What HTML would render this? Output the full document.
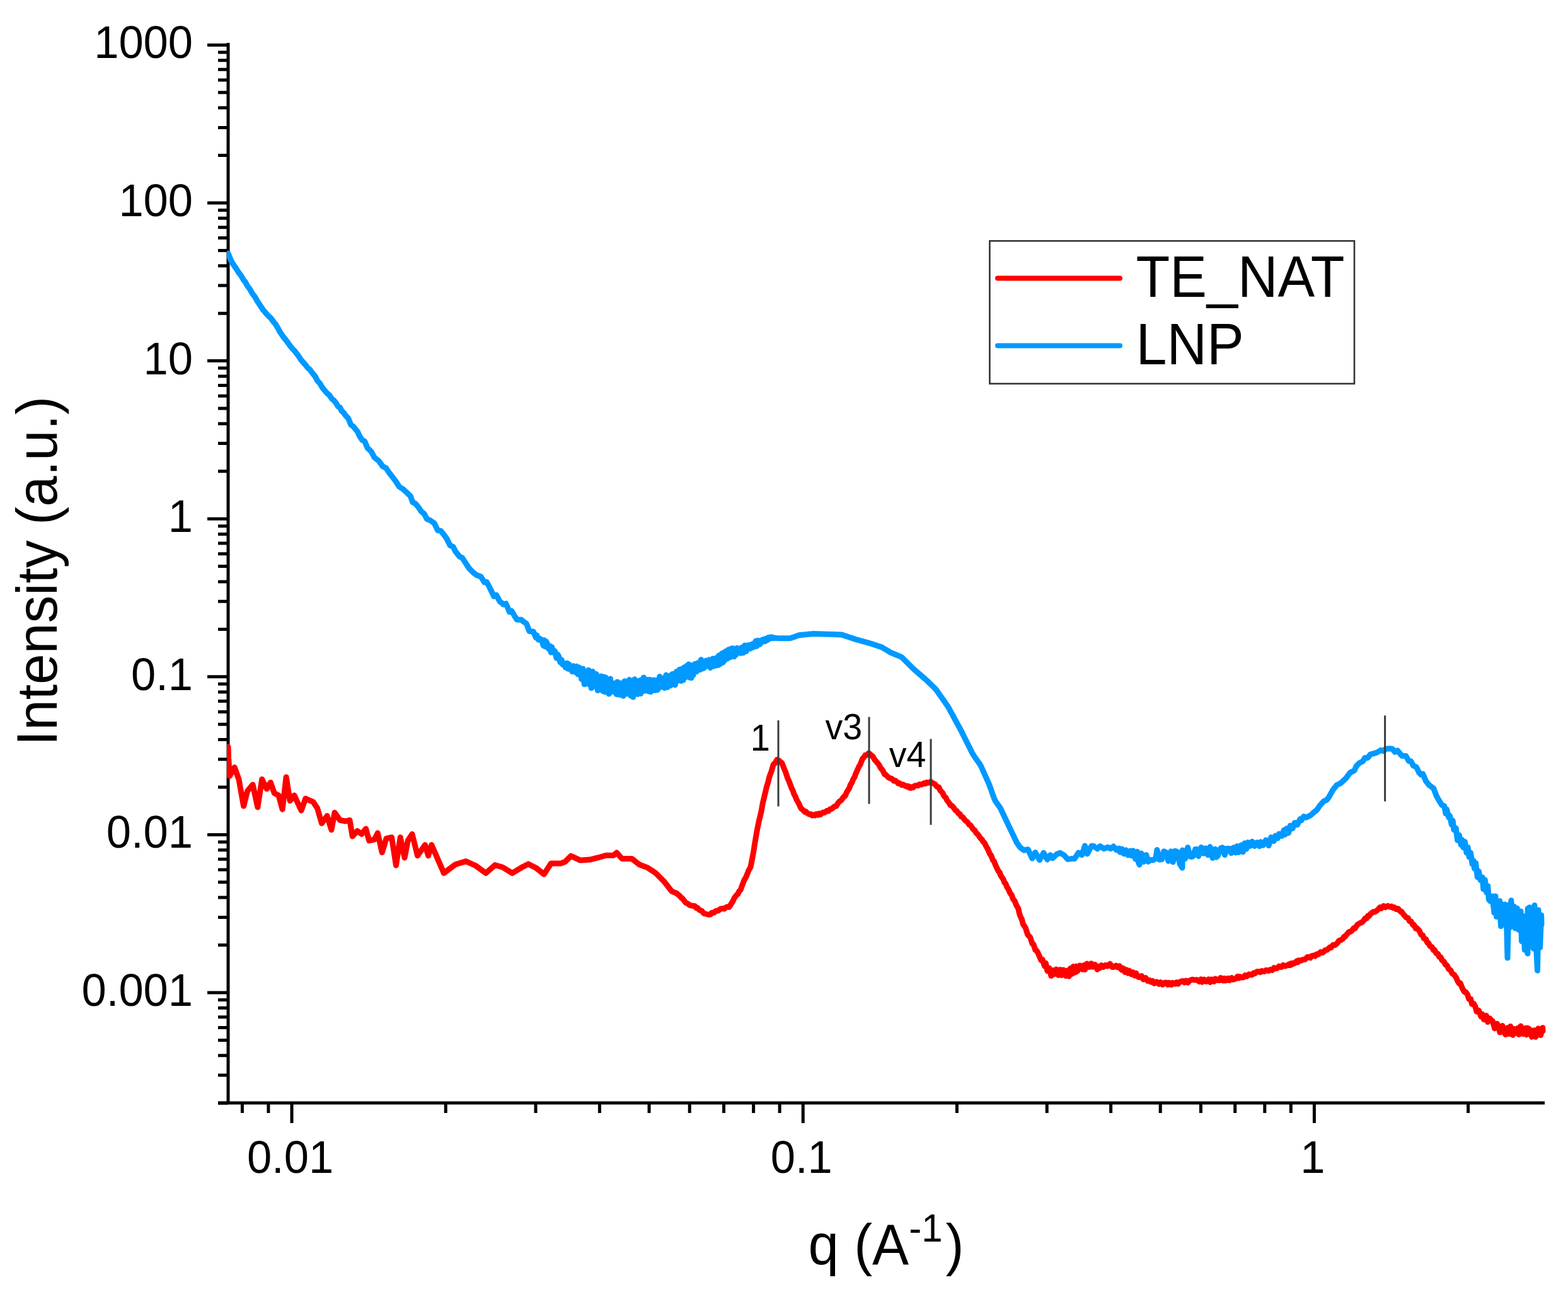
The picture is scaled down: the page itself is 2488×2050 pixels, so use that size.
<!DOCTYPE html>
<html><head><meta charset="utf-8"><title>SAXS plot</title>
<style>html,body{margin:0;padding:0;background:#fff;overflow:hidden;}svg{display:block;}</style>
</head><body>
<svg width="2488" height="2050" viewBox="0 0 2488 2050">
<rect width="2488" height="2050" fill="#fff"/>
<g stroke="#000" stroke-width="5" fill="none" stroke-linecap="butt">
<path d="M362,68V1752M346,1750H2451"/>
<path d="M346,1750.2H362M346,1706.0H362M346,1674.7H362M346,1650.4H362M346,1630.6H362M346,1613.8H362M346,1599.3H362M346,1586.5H362M329,1575.0H362M346,1499.6H362M346,1455.4H362M346,1424.1H362M346,1399.8H362M346,1380.0H362M346,1363.2H362M346,1348.7H362M346,1335.9H362M329,1324.4H362M346,1249.0H362M346,1204.8H362M346,1173.5H362M346,1149.2H362M346,1129.4H362M346,1112.6H362M346,1098.1H362M346,1085.3H362M329,1073.8H362M346,998.4H362M346,954.2H362M346,922.9H362M346,898.6H362M346,878.8H362M346,862.0H362M346,847.5H362M346,834.7H362M329,823.2H362M346,747.8H362M346,703.6H362M346,672.3H362M346,648.0H362M346,628.2H362M346,611.4H362M346,596.9H362M346,584.1H362M329,572.6H362M346,497.2H362M346,453.0H362M346,421.7H362M346,397.4H362M346,377.6H362M346,360.8H362M346,346.3H362M346,333.5H362M329,322.0H362M346,246.6H362M346,202.4H362M346,171.1H362M346,146.8H362M346,127.0H362M346,110.2H362M346,95.7H362M346,82.9H362M329,71.4H362"/>
<path d="M384.4,1750V1766M425.9,1750V1766M463.0,1750V1782M707.2,1750V1766M850.0,1750V1766M951.4,1750V1766M1030.0,1750V1766M1094.2,1750V1766M1148.5,1750V1766M1195.6,1750V1766M1237.1,1750V1766M1274.2,1750V1782M1518.4,1750V1766M1661.2,1750V1766M1762.6,1750V1766M1841.2,1750V1766M1905.4,1750V1766M1959.7,1750V1766M2006.8,1750V1766M2048.3,1750V1766M2085.4,1750V1782M2329.6,1750V1766"/>
</g>
<defs><clipPath id="pa"><rect x="360" y="0" width="2100" height="1748"/></clipPath></defs>
<g clip-path="url(#pa)">
<polyline fill="none" stroke="#0099ff" stroke-width="9" stroke-linejoin="round" stroke-linecap="round" points="362.0,402.1 366.5,413.2 370.1,419.4 374.4,425.6 378.2,431.7 382.6,437.4 386.7,444.6 389.2,447.3 392.5,453.6 396.1,458.2 400.4,465.8 404.6,471.3 408.6,478.3 412.9,484.7 417.1,491.2 420.7,495.4 423.4,498.7 427.1,502.3 430.3,505.5 434.3,511.0 437.2,514.3 441.6,521.8 444.6,527.2 449.5,534.4 454.5,540.6 457.1,544.2 460.1,548.5 462.9,552.1 467.5,556.8 470.6,560.9 473.2,564.1 477.2,570.3 481.0,574.9 484.7,578.9 488.6,584.1 491.1,585.8 495.5,591.6 500.2,597.4 503.6,604.1 507.5,608.3 511.8,615.5 516.2,620.7 519.3,624.2 522.5,626.8 526.5,632.8 530.1,635.6 532.9,639.0 536.4,645.0 539.4,646.3 542.2,652.2 545.3,654.9 548.1,658.9 552.8,664.1 556.7,673.8 560.6,676.7 567.4,685.1 570.6,692.0 574.6,698.1 578.6,700.3 583.1,710.8 589.3,716.7 594.0,725.8 600.9,731.2 607.0,739.7 612.6,742.8 617.8,750.5 622.1,755.9 628.3,764.1 633.4,772.2 639.0,775.7 644.9,781.0 651.4,787.2 654.8,797.0 658.9,798.9 662.6,803.0 668.4,811.3 673.2,815.5 677.3,823.5 682.5,825.6 689.1,830.1 694.6,841.6 699.2,842.1 704.0,847.9 708.4,853.9 714.2,865.4 719.0,867.5 722.6,874.8 729.5,883.3 733.3,884.9 739.6,894.5 744.5,902.0 751.1,908.7 756.3,912.5 763.0,914.9 768.7,924.1 772.3,923.5 777.3,933.0 783.7,946.2 787.5,944.0 793.1,954.4 799.1,959.1 802.8,957.7 808.6,971.1 811.8,969.3 816.6,977.6 820.1,983.2 826.9,983.3 829.9,985.8 835.4,989.6 840.0,1001.6 846.3,1002.3 850.2,1011.5 851.8,1008.0 854.0,1014.8 856.2,1015.3 857.5,1013.8 859.8,1015.5 862.1,1024.4 863.4,1015.7 865.2,1026.1 866.5,1017.8 868.3,1021.0 870.3,1029.3 872.7,1024.9 874.2,1035.1 875.7,1026.8 877.1,1035.1 878.3,1031.7 880.6,1033.5 883.0,1044.3 884.9,1038.5 886.9,1042.2 888.9,1051.0 891.1,1046.9 892.7,1054.4 895.1,1052.2 897.3,1059.0 899.9,1052.3 901.3,1061.2 903.0,1054.2 905.3,1062.3 906.6,1057.1 907.9,1065.5 909.8,1056.7 911.1,1064.8 912.8,1066.5 915.0,1057.3 916.9,1070.0 918.9,1059.0 921.5,1063.6 922.7,1077.6 924.9,1061.0 927.2,1085.8 929.5,1068.1 931.8,1083.8 933.7,1063.3 935.0,1086.1 936.7,1069.7 938.2,1091.8 940.2,1065.4 941.8,1089.0 943.7,1072.3 946.1,1069.4 948.4,1095.6 950.4,1076.0 952.6,1090.7 953.9,1072.9 956.4,1096.4 958.2,1074.1 959.6,1097.9 961.1,1074.9 963.7,1082.5 966.1,1101.0 968.4,1077.1 970.3,1097.6 972.3,1083.8 974.0,1097.8 975.5,1086.4 977.0,1086.4 978.2,1101.7 979.5,1081.9 982.0,1102.1 983.2,1084.1 984.4,1102.4 986.7,1084.1 988.8,1104.3 991.1,1080.8 993.1,1101.1 994.5,1083.1 996.2,1099.7 998.5,1078.4 1000.7,1103.9 1003.1,1081.0 1004.5,1106.1 1007.0,1077.8 1009.1,1100.4 1010.5,1081.7 1011.9,1101.6 1013.1,1080.8 1015.3,1079.5 1016.7,1100.5 1019.1,1078.7 1021.4,1074.9 1023.3,1096.2 1024.5,1078.3 1026.4,1095.4 1028.2,1078.5 1029.5,1097.1 1030.9,1078.5 1032.5,1097.8 1033.7,1079.8 1035.7,1094.9 1037.0,1079.0 1039.3,1095.4 1041.7,1079.4 1043.4,1094.7 1045.3,1090.6 1046.6,1073.6 1047.9,1090.3 1050.4,1077.7 1052.8,1076.2 1054.2,1091.6 1055.6,1076.2 1056.9,1071.1 1059.1,1090.6 1060.6,1087.9 1062.5,1072.5 1063.8,1087.8 1066.2,1069.9 1068.8,1069.2 1071.2,1086.8 1073.7,1065.4 1075.0,1080.4 1076.4,1078.1 1078.3,1062.3 1080.7,1080.5 1082.7,1061.1 1084.1,1079.0 1085.8,1058.7 1087.4,1075.0 1089.5,1056.6 1091.1,1072.8 1092.7,1054.0 1094.8,1075.2 1097.0,1075.7 1098.2,1055.9 1099.9,1071.2 1102.0,1053.8 1103.3,1053.4 1105.1,1065.7 1106.4,1052.4 1108.7,1051.4 1111.0,1062.7 1112.4,1046.7 1114.7,1059.3 1116.0,1060.6 1117.5,1059.6 1120.0,1048.2 1122.3,1056.3 1123.6,1056.8 1125.2,1046.8 1127.2,1059.5 1129.0,1057.2 1131.1,1045.0 1132.9,1057.1 1135.0,1047.5 1136.5,1055.7 1137.9,1043.1 1139.6,1055.4 1140.8,1040.0 1143.1,1053.5 1145.4,1036.8 1147.3,1051.0 1149.1,1035.0 1150.4,1047.2 1152.1,1033.0 1154.1,1045.0 1155.8,1030.8 1158.2,1043.0 1160.3,1029.0 1161.7,1039.6 1162.9,1028.6 1164.8,1041.8 1166.3,1031.0 1167.9,1038.8 1169.3,1028.2 1171.2,1030.7 1173.0,1029.0 1175.5,1036.5 1177.2,1027.2 1179.3,1035.8 1181.7,1024.1 1184.3,1033.5 1185.6,1024.0 1187.6,1029.4 1189.4,1023.3 1190.7,1029.0 1193.3,1022.0 1194.9,1027.2 1197.4,1020.2 1199.1,1017.2 1200.4,1025.5 1202.7,1016.2 1204.3,1022.8 1206.7,1021.4 1209.0,1015.5 1211.5,1014.5 1213.7,1017.8 1215.0,1013.3 1216.8,1016.1 1219.3,1011.4 1220.7,1013.9 1223.3,1010.7 1225.3,1012.8 1226.6,1011.5 1228.3,1012.6 1229.6,1012.1 1231.2,1012.5 1233.2,1012.6 1235.2,1012.7 1237.2,1012.7 1239.2,1012.7 1241.2,1012.7 1243.2,1012.7 1245.2,1012.7 1247.2,1012.7 1249.2,1012.7 1251.2,1012.7 1253.2,1012.7 1255.2,1012.3 1257.2,1011.6 1259.2,1010.9 1261.2,1010.2 1263.2,1009.5 1265.2,1008.8 1267.2,1008.1 1269.2,1007.6 1271.2,1007.4 1273.2,1007.2 1275.2,1007.1 1277.2,1006.9 1279.2,1006.7 1281.2,1006.5 1283.2,1006.3 1285.2,1006.1 1287.2,1006.0 1289.2,1005.8 1291.2,1005.6 1293.2,1005.7 1295.2,1005.7 1297.2,1005.8 1299.2,1005.8 1301.2,1005.9 1303.2,1006.0 1305.2,1006.0 1307.2,1006.1 1309.2,1006.2 1311.2,1006.2 1313.2,1006.3 1315.2,1006.3 1317.2,1006.4 1319.2,1006.5 1321.2,1006.5 1323.2,1006.6 1325.2,1006.7 1327.2,1006.7 1329.2,1006.8 1331.2,1006.9 1333.2,1006.9 1335.2,1007.0 1337.2,1007.6 1339.2,1008.3 1341.2,1009.0 1343.2,1009.6 1345.2,1010.3 1347.2,1011.0 1349.2,1011.6 1351.2,1012.3 1353.2,1013.0 1355.2,1013.6 1357.2,1014.3 1359.2,1014.8 1361.2,1015.4 1363.2,1015.9 1365.2,1016.5 1367.2,1017.1 1369.2,1017.6 1371.2,1018.2 1373.2,1018.7 1375.2,1019.3 1377.2,1019.9 1379.2,1020.4 1381.2,1021.0 1383.2,1021.6 1385.2,1022.3 1387.2,1022.9 1389.2,1023.6 1391.2,1024.3 1393.2,1025.0 1395.2,1025.6 1397.2,1026.3 1399.2,1027.0 1401.2,1028.1 1403.2,1029.3 1405.2,1030.5 1407.2,1031.7 1409.2,1032.9 1411.2,1034.1 1413.2,1035.3 1415.2,1036.2 1417.2,1037.0 1419.2,1037.8 1421.2,1038.7 1423.2,1039.5 1425.2,1040.3 1427.2,1041.1 1429.2,1042.0 1431.2,1043.1 1433.2,1045.1 1435.2,1047.1 1437.2,1049.1 1439.2,1051.1 1441.2,1053.1 1443.2,1055.1 1445.2,1057.1 1447.2,1059.1 1449.2,1061.1 1451.2,1062.8 1453.2,1064.6 1455.2,1066.3 1457.2,1068.0 1459.2,1069.8 1461.2,1071.5 1463.2,1073.3 1465.2,1075.0 1467.2,1076.7 1469.2,1078.5 1471.2,1080.3 1473.2,1082.2 1475.2,1084.2 1477.2,1086.1 1479.2,1088.1 1481.2,1090.0 1483.2,1091.9 1485.2,1094.1 1487.2,1096.9 1489.2,1099.8 1491.2,1102.6 1493.2,1105.4 1495.2,1108.3 1497.2,1111.1 1499.2,1114.0 1501.2,1116.8 1503.2,1119.7 1505.2,1122.9 1507.2,1126.6 1509.2,1130.3 1511.2,1133.9 1513.2,1137.6 1515.2,1141.3 1517.2,1145.0 1519.2,1148.6 1521.2,1152.3 1523.2,1156.0 1525.2,1159.7 1527.2,1163.7 1529.2,1167.7 1531.2,1171.7 1533.2,1175.7 1535.2,1179.7 1537.2,1183.7 1539.2,1187.7 1541.2,1191.7 1543.2,1195.7 1545.2,1199.0 1547.2,1201.8 1549.2,1204.7 1551.2,1207.5 1553.2,1210.4 1555.2,1213.2 1557.2,1217.1 1559.2,1221.5 1561.2,1226.0 1563.2,1230.5 1565.2,1235.0 1567.2,1239.4 1569.2,1243.9 1571.2,1249.1 1573.2,1254.8 1575.2,1260.4 1577.2,1266.0 1579.2,1270.7 1581.2,1273.5 1583.2,1276.3 1585.2,1279.1 1587.2,1282.0 1589.2,1286.2 1591.2,1290.5 1593.2,1294.7 1595.2,1298.9 1597.2,1303.2 1599.2,1307.4 1601.2,1311.6 1603.2,1315.8 1605.2,1319.9 1607.2,1324.1 1609.2,1328.3 1611.2,1332.4 1613.2,1336.9 1618.9,1344.8 1624.9,1349.2 1631.1,1347.7 1637.9,1362.0 1642.8,1352.6 1649.5,1364.6 1655.9,1353.2 1661.8,1363.9 1666.5,1356.6 1670.0,1361.7 1676.9,1355.3 1682.2,1353.3 1688.7,1357.2 1694.0,1363.4 1699.9,1362.6 1705.0,1362.4 1711.3,1353.0 1716.8,1356.6 1721.4,1342.1 1725.2,1354.8 1732.0,1342.2 1735.1,1342.2 1741.1,1346.8 1745.7,1342.7 1751.9,1346.7 1758.1,1344.2 1762.1,1346.7 1766.8,1343.1 1771.2,1348.5 1775.2,1346.2 1777.3,1352.3 1780.1,1346.9 1783.1,1354.7 1786.5,1348.8 1789.7,1356.8 1793.3,1350.0 1795.4,1357.7 1797.8,1349.8 1801.8,1363.1 1804.4,1351.3 1806.5,1368.4 1808.0,1372.0 1810.9,1354.0 1814.7,1367.4 1818.8,1356.4 1821.9,1367.2 1825.0,1364.4 1829.4,1364.7 1833.8,1362.3 1835.9,1348.5 1839.7,1364.0 1843.4,1363.6 1846.7,1350.8 1850.3,1352.6 1853.7,1366.2 1858.0,1350.8 1861.3,1367.8 1864.5,1350.2 1868.3,1351.9 1872.1,1370.9 1876.0,1377.0 1876.2,1349.1 1880.6,1362.5 1884.7,1344.6 1888.1,1358.8 1891.2,1359.5 1893.3,1358.2 1896.7,1347.4 1899.2,1347.5 1901.7,1358.5 1906.0,1344.6 1910.0,1354.2 1912.5,1345.9 1916.7,1356.6 1920.0,1343.5 1924.1,1361.4 1928.0,1347.2 1930.1,1360.1 1932.3,1358.0 1936.6,1346.2 1939.4,1344.7 1943.4,1356.5 1945.4,1346.8 1949.4,1346.3 1953.7,1353.7 1955.9,1345.7 1958.2,1344.7 1960.7,1352.9 1962.9,1342.6 1965.2,1352.4 1969.2,1341.1 1972.3,1351.7 1974.8,1338.0 1977.8,1347.0 1980.1,1336.6 1983.9,1342.3 1986.9,1335.3 1990.6,1342.4 1994.6,1336.7 1998.5,1342.8 2000.5,1335.8 2004.3,1341.2 2008.7,1332.9 2013.1,1341.8 2016.9,1328.5 2021.2,1334.6 2023.9,1326.1 2027.3,1330.0 2029.6,1323.1 2033.9,1326.5 2037.3,1317.0 2039.3,1324.2 2041.6,1314.6 2044.6,1321.5 2047.4,1309.9 2051.0,1314.5 2054.5,1305.4 2058.5,1308.7 2063.0,1299.4 2065.0,1301.7 2068.6,1295.6 2072.9,1297.1 2079.8,1293.5 2085.1,1288.6 2089.3,1285.4 2094.1,1278.3 2100.7,1271.1 2105.0,1269.5 2108.5,1265.0 2114.8,1253.6 2121.0,1245.8 2126.7,1243.0 2131.5,1238.8 2135.6,1235.0 2142.3,1225.9 2148.9,1222.5 2152.4,1215.3 2157.5,1210.3 2162.5,1208.0 2165.7,1202.4 2170.4,1202.4 2174.4,1197.0 2180.5,1195.3 2184.9,1194.0 2191.0,1190.2 2195.2,1191.7 2198.5,1188.4 2203.8,1187.8 2209.2,1188.3 2213.4,1193.2 2217.4,1190.8 2224.3,1199.2 2230.8,1199.4 2235.2,1207.4 2238.6,1207.7 2242.6,1215.0 2247.4,1217.1 2251.5,1225.5 2254.6,1229.2 2257.7,1228.0 2262.5,1239.2 2267.8,1245.9 2274.6,1250.7 2279.4,1263.2 2283.6,1270.4 2287.9,1277.5 2291.5,1278.5 2294.1,1291.0 2295.6,1284.2 2298.6,1296.8 2300.5,1294.5 2303.4,1308.5 2305.2,1302.2 2307.0,1316.8 2310.1,1313.9 2312.6,1333.3 2315.4,1325.1 2318.2,1340.5 2319.7,1332.5 2321.7,1344.6 2324.4,1335.6 2326.9,1352.8 2329.1,1344.3 2331.2,1359.8 2333.5,1353.1 2336.2,1371.0 2338.1,1365.6 2339.5,1378.0 2341.5,1369.4 2344.3,1391.6 2346.4,1382.5 2349.1,1396.4 2352.2,1391.9 2353.8,1410.8 2356.3,1396.3 2358.7,1416.2 2360.8,1405.9 2362.4,1427.3 2365.0,1430.1 2368.0,1422.0 2370.9,1448.3 2372.9,1421.9 2374.5,1454.6 2376.9,1450.7 2379.7,1429.8 2381.5,1469.6 2383.2,1434.9 2386.3,1466.6 2387.8,1434.9 2390.7,1469.8 2392.0,1520.0 2393.8,1435.9 2395.5,1471.8 2397.8,1428.8 2400.5,1467.3 2402.4,1438.6 2404.2,1473.0 2407.2,1441.3 2409.9,1475.4 2413.0,1445.9 2414.5,1493.4 2417.0,1453.5 2419.3,1507.3 2421.7,1492.1 2424.0,1513.0 2424.1,1441.7 2427.1,1439.7 2429.5,1494.1 2431.6,1443.9 2433.1,1504.9 2434.9,1436.6 2438.0,1511.1 2439.5,1540.0 2441.0,1444.0 2443.6,1503.2 2445.6,1452.2 2446.0,1467.0"/>
<polyline fill="none" stroke="#ff0000" stroke-width="9" stroke-linejoin="round" stroke-linecap="round" points="362.0,1185.1 362.5,1202.2 364.4,1231.3 372.1,1217.6 378.9,1236.4 386.6,1279.1 392.6,1255.2 401.1,1244.9 408.8,1280.8 415.7,1236.4 423.3,1251.8 429.3,1241.5 435.3,1258.6 442.1,1262.0 448.1,1284.2 454.1,1233.0 460.1,1270.6 466.9,1262.0 478.0,1285.9 484.8,1267.1 496.8,1272.3 503.6,1282.5 510.5,1306.4 519.0,1294.5 525.9,1316.7 531.0,1289.3 539.5,1301.3 548.1,1303.0 554.9,1301.3 559.2,1326.9 566.9,1318.4 573.7,1323.5 580.5,1315.0 585.7,1333.8 594.2,1332.1 599.3,1321.8 606.2,1352.6 613.0,1330.4 621.5,1328.6 628.4,1373.1 635.2,1328.6 642.0,1361.1 647.2,1333.8 654.0,1323.5 662.5,1357.7 674.5,1340.6 679.6,1357.7 684.8,1340.6 704.3,1385.4 722.2,1371.8 739.3,1366.6 754.7,1373.5 770.9,1385.4 785.4,1372.6 797.4,1376.0 812.8,1385.4 829.8,1375.2 838.4,1370.9 850.3,1376.9 863.2,1387.1 874.3,1370.0 889.6,1370.0 896.5,1367.5 905.9,1358.1 920.4,1364.9 935.8,1364.1 949.4,1360.7 961.4,1357.2 973.4,1357.2 978.5,1353.0 987.0,1362.4 1002.4,1362.4 1014.4,1371.8 1028.0,1376.9 1040.0,1384.9 1053.8,1398.7 1065.9,1414.3 1070.0,1415.9 1072.0,1416.7 1074.0,1417.5 1076.0,1419.4 1078.8,1421.7 1081.2,1424.8 1082.9,1425.4 1085.0,1428.6 1088.7,1432.7 1091.4,1433.8 1094.3,1436.1 1096.0,1436.6 1098.0,1437.2 1099.6,1437.3 1102.4,1437.4 1104.7,1440.6 1106.5,1440.2 1110.0,1444.1 1113.5,1445.3 1115.6,1447.8 1117.3,1449.5 1121.2,1450.5 1124.1,1451.2 1127.3,1450.9 1129.3,1448.3 1132.6,1448.3 1136.1,1445.2 1139.6,1445.1 1142.6,1442.5 1145.9,1441.4 1149.2,1442.1 1152.1,1439.5 1154.4,1438.8 1156.9,1439.4 1160.7,1433.4 1162.7,1430.3 1165.2,1424.9 1168.8,1420.1 1170.9,1418.4 1172.7,1414.4 1175.3,1411.6 1177.3,1405.6 1181.0,1396.2 1184.2,1390.7 1187.7,1381.6 1191.0,1375.6 1194.3,1358.9 1196.1,1348.7 1197.8,1337.4 1201.5,1316.1 1204.0,1304.0 1207.9,1287.9 1210.2,1274.8 1213.9,1259.4 1216.7,1247.5 1218.4,1242.5 1221.1,1231.7 1223.9,1224.2 1227.3,1212.7 1230.0,1210.6 1232.9,1205.3 1236.9,1207.5 1239.1,1209.8 1240.7,1210.6 1244.4,1220.0 1246.5,1224.9 1249.7,1234.7 1252.3,1240.4 1256.1,1250.6 1258.2,1254.7 1260.0,1260.3 1261.9,1263.5 1264.0,1268.9 1267.9,1275.8 1270.9,1282.5 1274.6,1285.7 1276.9,1288.3 1278.6,1287.6 1281.3,1290.5 1283.8,1292.0 1286.2,1291.7 1288.4,1294.0 1291.3,1292.6 1293.2,1293.9 1295.6,1291.6 1298.1,1293.1 1299.8,1291.0 1301.9,1292.4 1305.7,1289.1 1308.5,1289.4 1311.8,1286.6 1314.2,1287.1 1317.4,1283.7 1320.0,1283.3 1323.8,1279.6 1326.9,1279.0 1329.0,1275.2 1331.8,1271.7 1335.2,1269.4 1338.9,1264.1 1341.0,1262.8 1343.5,1256.9 1347.5,1250.7 1349.5,1245.0 1352.0,1241.2 1353.8,1236.2 1356.0,1233.0 1357.6,1228.1 1361.1,1220.4 1363.2,1215.8 1365.2,1212.8 1368.2,1204.5 1371.5,1200.8 1373.2,1197.9 1375.9,1198.0 1378.2,1195.1 1381.2,1197.1 1384.9,1200.2 1388.1,1205.8 1391.6,1209.7 1394.6,1213.3 1397.4,1218.8 1399.1,1220.3 1401.4,1223.8 1403.6,1228.6 1405.9,1229.5 1409.3,1233.4 1411.9,1234.6 1414.8,1235.4 1418.1,1239.0 1420.2,1238.3 1422.0,1239.7 1425.6,1243.3 1427.5,1242.8 1431.0,1245.7 1433.1,1244.8 1437.0,1247.4 1439.3,1247.1 1441.3,1249.2 1442.8,1247.9 1445.1,1250.3 1447.1,1248.8 1449.2,1249.4 1451.0,1247.2 1454.6,1246.2 1457.1,1246.6 1458.7,1244.5 1462.6,1244.8 1466.3,1242.6 1468.4,1243.4 1470.6,1241.4 1472.9,1242.3 1476.9,1240.3 1480.3,1242.9 1483.1,1244.0 1487.1,1248.6 1489.7,1249.0 1491.7,1253.9 1495.3,1257.6 1498.1,1263.3 1500.8,1265.7 1502.5,1269.5 1506.2,1274.2 1508.2,1277.7 1510.0,1278.1 1512.4,1280.4 1516.3,1286.0 1518.0,1286.5 1520.5,1290.4 1523.0,1291.6 1525.1,1295.5 1527.7,1296.6 1531.3,1301.7 1535.1,1304.4 1537.6,1308.3 1540.0,1309.4 1543.9,1315.4 1546.5,1317.4 1549.1,1321.8 1551.8,1324.1 1555.6,1329.9 1558.1,1331.9 1559.7,1335.3 1562.2,1337.4 1565.0,1343.4 1566.7,1345.7 1570.3,1354.3 1572.6,1357.5 1575.5,1364.9 1577.2,1366.4 1580.2,1374.1 1584.2,1382.2 1585.9,1383.8 1588.0,1389.4 1591.8,1394.8 1593.9,1400.5 1595.7,1402.1 1597.9,1407.6 1599.7,1410.1 1602.7,1416.8 1605.4,1420.5 1607.4,1426.4 1610.2,1429.8 1612.8,1436.7 1615.7,1441.3 1617.3,1448.5 1618.8,1453.3 1621.6,1459.4 1623.3,1466.3 1625.2,1469.0 1627.3,1472.4 1630.8,1483.3 1634.5,1486.9 1638.2,1497.7 1639.8,1498.2 1642.9,1507.5 1644.9,1508.2 1647.9,1514.0 1651.9,1523.6 1654.0,1522.3 1657.4,1533.0 1659.3,1528.2 1662.0,1540.8 1664.9,1536.1 1667.9,1548.5 1670.5,1539.6 1672.1,1546.1 1675.9,1537.9 1679.4,1547.4 1682.3,1538.4 1684.1,1547.5 1687.5,1539.0 1691.0,1548.5 1694.3,1539.7 1696.3,1549.2 1698.5,1536.5 1701.3,1545.3 1703.1,1533.5 1706.1,1543.0 1708.0,1533.1 1709.6,1541.0 1713.4,1531.9 1717.3,1538.2 1720.0,1531.3 1721.5,1538.5 1724.7,1529.0 1728.4,1534.5 1731.5,1528.8 1733.9,1534.1 1737.5,1530.4 1741.1,1538.2 1743.5,1533.6 1745.1,1536.0 1747.6,1531.5 1750.9,1534.3 1754.3,1531.3 1757.4,1532.9 1761.3,1529.3 1764.8,1534.5 1767.1,1534.5 1770.9,1532.1 1773.8,1535.0 1776.2,1532.7 1779.8,1539.1 1781.3,1536.1 1783.2,1537.2 1784.9,1542.4 1787.3,1538.8 1790.0,1544.2 1791.8,1540.1 1795.6,1546.1 1797.4,1542.5 1800.8,1548.2 1802.4,1544.0 1806.3,1550.5 1808.8,1550.6 1811.4,1548.4 1814.1,1554.1 1817.9,1551.5 1821.0,1556.5 1824.0,1555.3 1826.5,1558.2 1828.7,1556.2 1831.5,1560.5 1835.3,1558.0 1838.7,1561.2 1841.5,1558.4 1844.7,1562.3 1847.9,1559.2 1850.4,1559.1 1853.0,1562.5 1854.9,1559.2 1858.7,1562.6 1860.5,1559.2 1864.3,1561.1 1866.7,1558.7 1869.4,1561.2 1872.5,1557.7 1876.3,1556.5 1879.4,1559.0 1881.9,1556.0 1884.8,1559.2 1888.2,1555.5 1891.8,1554.2 1895.2,1555.0 1898.8,1554.6 1902.7,1557.4 1905.6,1553.7 1907.6,1558.2 1910.5,1554.1 1914.0,1557.4 1918.0,1553.7 1920.3,1558.4 1922.9,1553.9 1926.2,1557.4 1928.5,1552.9 1932.3,1555.6 1935.0,1555.6 1936.7,1551.4 1940.7,1556.1 1942.6,1552.3 1944.5,1556.1 1948.5,1552.2 1950.4,1555.6 1954.4,1551.5 1955.9,1554.3 1957.6,1554.1 1961.5,1552.6 1963.5,1549.3 1965.6,1552.1 1967.2,1549.4 1969.5,1551.0 1972.8,1550.8 1975.6,1547.4 1978.4,1549.2 1981.9,1545.9 1985.6,1547.0 1987.2,1546.3 1989.1,1543.8 1991.3,1544.6 1994.2,1541.7 1996.5,1541.5 2000.0,1542.7 2002.1,1540.5 2005.8,1541.5 2009.1,1539.2 2012.9,1540.4 2015.4,1538.4 2018.7,1539.4 2021.6,1535.6 2024.8,1536.9 2026.8,1536.1 2029.4,1533.1 2033.2,1534.5 2036.2,1531.4 2039.3,1533.1 2041.5,1532.2 2045.2,1530.0 2046.9,1531.8 2048.7,1528.6 2050.2,1530.2 2051.8,1528.1 2053.7,1528.7 2057.3,1525.1 2058.9,1527.1 2060.4,1523.7 2063.8,1524.3 2067.5,1522.6 2070.9,1522.3 2074.4,1518.4 2076.6,1518.4 2079.2,1519.8 2081.1,1516.9 2084.4,1516.0 2086.8,1517.1 2089.0,1513.9 2091.8,1514.2 2095.4,1510.6 2097.5,1511.8 2099.7,1510.8 2102.2,1507.9 2106.2,1506.8 2110.0,1503.1 2111.8,1503.8 2115.3,1499.3 2118.1,1499.6 2121.5,1497.1 2124.4,1492.8 2128.2,1491.3 2131.1,1489.2 2132.6,1486.1 2134.2,1486.2 2137.3,1482.3 2140.3,1478.8 2143.1,1478.3 2145.5,1476.1 2147.8,1472.8 2149.9,1473.3 2153.5,1467.7 2157.4,1464.9 2161.2,1463.3 2163.8,1460.7 2166.0,1457.1 2168.5,1457.3 2170.5,1453.0 2172.4,1453.6 2174.9,1449.8 2178.9,1446.8 2181.4,1446.9 2183.9,1445.5 2186.4,1443.4 2189.6,1439.7 2191.8,1441.3 2195.3,1437.5 2198.3,1439.6 2202.0,1437.3 2205.4,1439.1 2207.9,1438.1 2210.4,1440.7 2212.6,1439.7 2215.2,1442.6 2218.4,1441.7 2222.2,1446.6 2223.8,1446.3 2227.4,1451.3 2231.2,1455.7 2234.2,1456.6 2236.4,1461.5 2239.0,1462.0 2242.0,1467.7 2243.6,1467.3 2246.5,1473.2 2248.2,1472.4 2252.1,1476.8 2255.0,1483.2 2257.6,1484.0 2259.2,1488.8 2262.5,1490.2 2264.7,1495.7 2266.6,1496.3 2269.2,1501.3 2272.2,1502.6 2274.5,1507.5 2276.2,1507.0 2278.9,1512.6 2281.5,1513.3 2283.9,1518.5 2286.2,1518.8 2287.9,1523.3 2291.5,1526.3 2293.7,1530.9 2296.2,1531.9 2298.6,1537.6 2301.4,1539.0 2304.2,1544.5 2307.5,1546.8 2310.9,1551.7 2312.9,1556.8 2315.5,1560.7 2317.2,1560.1 2320.3,1568.0 2323.4,1573.5 2325.6,1574.0 2328.4,1577.7 2330.8,1585.2 2333.7,1585.2 2335.6,1593.2 2338.5,1592.6 2340.9,1597.1 2343.0,1605.1 2345.0,1603.0 2346.5,1603.4 2350.0,1613.1 2351.7,1608.9 2354.6,1617.7 2358.3,1611.4 2360.6,1621.6 2363.8,1615.8 2366.6,1619.2 2368.3,1619.9 2371.6,1631.8 2375.5,1624.2 2377.4,1628.3 2379.9,1638.1 2383.9,1627.5 2386.6,1638.2 2389.0,1641.6 2391.4,1631.0 2394.5,1640.6 2396.7,1628.4 2400.5,1642.3 2402.4,1632.4 2406.3,1639.2 2408.3,1631.3 2410.1,1641.6 2413.1,1628.1 2417.0,1640.5 2420.5,1631.3 2422.1,1641.9 2423.8,1631.1 2427.0,1633.0 2430.5,1645.2 2434.0,1634.7 2436.7,1645.3 2440.6,1631.9 2444.6,1642.6 2447.7,1630.7 2448.0,1636.0"/>
</g>
<g stroke="#3c3c3c" stroke-width="3" fill="none">
<path d="M1235,1143V1279.5M1379,1137.5V1275.6M1477,1172.5V1308.8M2197.6,1135.3V1271.5"/>
</g>
<rect x="1570.4" y="382.3" width="578.6" height="226.5" fill="#fff" stroke="#333" stroke-width="2.6"/>
<path d="M1583,441.5H1777" stroke="#ff0000" stroke-width="8" stroke-linecap="round"/>
<path d="M1583,548.5H1777" stroke="#0099ff" stroke-width="8" stroke-linecap="round"/>
<g font-family="'Liberation Sans', Arial, Helvetica, sans-serif" fill="#000"><text transform="translate(306.0,92.4) scale(1,1.03)" font-size="70.5" text-anchor="end">1000</text><text transform="translate(306.0,343.0) scale(1,1.03)" font-size="70.5" text-anchor="end">100</text><text transform="translate(306.0,593.6) scale(1,1.03)" font-size="70.5" text-anchor="end">10</text><text transform="translate(306.0,844.2) scale(1,1.03)" font-size="70.5" text-anchor="end">1</text><text transform="translate(306.0,1094.8) scale(1,1.03)" font-size="70.5" text-anchor="end">0.1</text><text transform="translate(306.0,1345.4) scale(1,1.03)" font-size="70.5" text-anchor="end">0.01</text><text transform="translate(306.0,1596.0) scale(1,1.03)" font-size="70.5" text-anchor="end">0.001</text><text transform="translate(460.5,1861.0) scale(1,1.03)" font-size="70.5" text-anchor="middle">0.01</text><text transform="translate(1271.7,1861.0) scale(1,1.03)" font-size="70.5" text-anchor="middle">0.1</text><text transform="translate(2082.9,1861.0) scale(1,1.03)" font-size="70.5" text-anchor="middle">1</text><text transform="translate(1222.0,1191.4) scale(1,1.045)" font-size="56" text-anchor="end">1</text><text transform="translate(1309.5,1172.6) scale(1,1.045)" font-size="55.5">v3</text><text transform="translate(1410.8,1216.8) scale(1,1.045)" font-size="55.5">v4</text><text transform="translate(90.0,906.0) rotate(-90) scale(1,1.045)" font-size="87.5" text-anchor="middle">Intensity (a.u.)</text><text transform="translate(1282.6,2006.0) scale(1,1.045)" font-size="87">q (A</text><text transform="translate(1442.2,1970.0) scale(1,1.045)" font-size="60">-1</text><text transform="translate(1500.5,2006.0) scale(1,1.045)" font-size="87">)</text><text transform="translate(1802.6,471.0) scale(1,1.045)" font-size="88">TE_NAT</text><text transform="translate(1802.6,578.4) scale(1,1.045)" font-size="88">LNP</text></g>
</svg>
</body></html>
